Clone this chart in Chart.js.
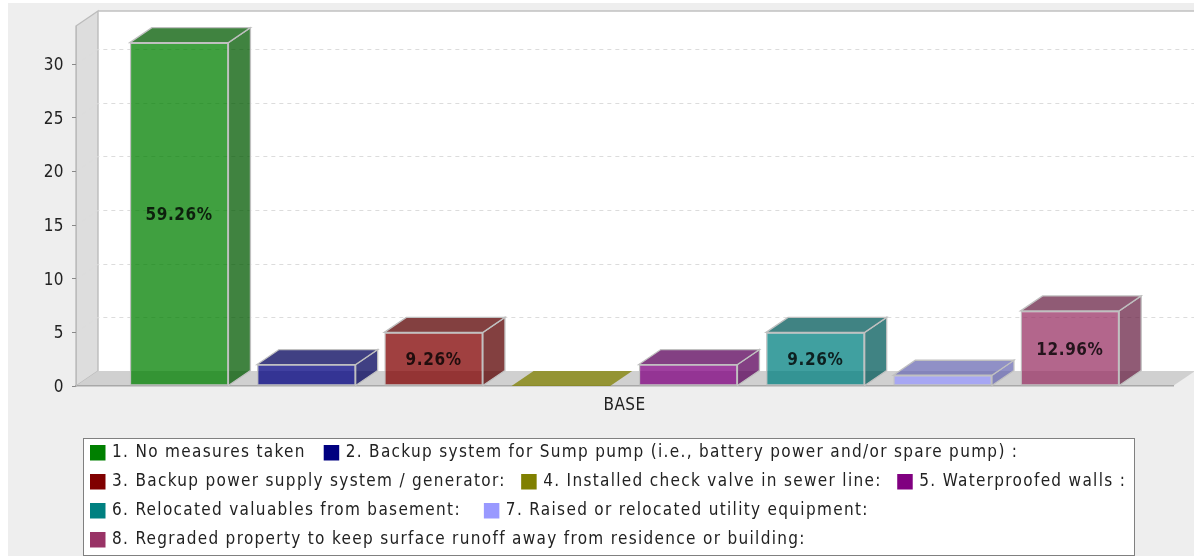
<!DOCTYPE html>
<html><head><meta charset="utf-8">
<style>html,body{margin:0;padding:0;background:#fff;overflow:hidden}
canvas{display:block;filter:blur(0.55px)}</style>
<script src="https://cdn.jsdelivr.net/npm/chart.js@4/dist/chart.umd.min.js"></script>
</head><body><canvas id="c" width="1194" height="556"></canvas>
<script>
const categories = ["BASE"];
const seriesNames = [
 "1. No measures taken",
 "2. Backup system for Sump pump (i.e., battery power and/or spare pump) :",
 "3. Backup power supply system / generator:",
 "4. Installed check valve in sewer line:",
 "5. Waterproofed walls :",
 "6. Relocated valuables from basement:",
 "7. Raised or relocated utility equipment:",
 "8. Regraded property to keep surface runoff away from residence or building:"];
const seriesValues = [32, 2, 5, 0, 2, 5, 1, 7];
const barLabels = ["59.26%", "", "9.26%", "", "", "9.26%", "", "12.96%"];
const seriesRGB = [[0,128,0],[0,0,128],[128,0,0],[128,128,0],[128,0,128],[0,128,128],[153,153,255],[153,51,102]];
const legendRows = [[0,1],[2,3,4],[5,6],[7]];
const legendGaps = [18,15.5,23,17];

const DX = 22, DY = 15, FONT = '"DejaVu Sans Condensed","DejaVu Sans",sans-serif';
const A = 0.75;
const rgba = (c,k=1)=>`rgba(${c.map(v=>Math.round(v*k)).join(',')},${A})`;
function poly(ctx,pts,fill,stroke,lw=1){
  ctx.beginPath();pts.forEach((p,i)=>i?ctx.lineTo(p[0],p[1]):ctx.moveTo(p[0],p[1]));ctx.closePath();
  if(fill){ctx.fillStyle=fill;ctx.fill();}
  if(stroke){ctx.strokeStyle=stroke;ctx.lineWidth=lw;ctx.stroke();}
}
const scene = {
  id:'scene',
  beforeDraw(ch){
    const {ctx,width,height,chartArea:a,scales:{y}}=ch;
    ctx.letterSpacing='0.4px';
    ctx.fillStyle='#fff';ctx.fillRect(0,0,width,height);
    ctx.fillStyle='#eeeeee';ctx.fillRect(8,3,width-8,height-3);
    const L=a.left,R=a.right,T=a.top,B=a.bottom;
    ctx.fillStyle='#fff';ctx.fillRect(L+DX,T-DY,width,B-T);
    poly(ctx,[[L,T],[L+DX,T-DY],[L+DX,B-DY],[L,B]],'#dddddd','#bcbcbc',1.4);
    ctx.strokeStyle='#c0c0c0';ctx.lineWidth=1.5;
    ctx.beginPath();ctx.moveTo(L+DX,T-DY);ctx.lineTo(width,T-DY);ctx.stroke();
    ctx.save();ctx.setLineDash([4,4]);ctx.strokeStyle='#dcdcdc';ctx.lineWidth=1;
    y.ticks.forEach(t=>{ if(t.value===0)return;
      const py=Math.round(y.getPixelForValue(t.value))+.5;
      ctx.beginPath();ctx.moveTo(L,py);ctx.lineTo(L+DX,py-DY);ctx.lineTo(width,py-DY);ctx.stroke();});
    ctx.restore();
    poly(ctx,[[L,B],[L+DX,B-DY],[R+DX,B-DY],[R,B]],'#d0d0d0',null);
  },
  beforeDatasetDraw(ch,args){
    const {ctx}=ch, el=ch.getDatasetMeta(args.index).data[0], c=seriesRGB[args.index];
    const l=el.x-el.width/2,r=el.x+el.width/2,t=el.y,b=el.base;
    const has=seriesValues[args.index]>0, st=has?'#c0c0c0':null;
    poly(ctx,[[r,b],[r+DX,b-DY],[r+DX,t-DY],[r,t]],has?rgba(c,.7):null,st,1.3);
    poly(ctx,[[l,t],[l+DX,t-DY],[r+DX,t-DY],[r,t]],has?rgba(c,.7):rgba(c,1),st,1.3);
  },
  afterDatasetsDraw(ch){
    const {ctx}=ch;
    ctx.save();ctx.letterSpacing='0.6px';
    ctx.font='bold 17px "DejaVu Sans Condensed","DejaVu Sans",sans-serif';
    ctx.textAlign='center';ctx.textBaseline='middle';ctx.fillStyle='rgba(0,0,0,.8)';
    barLabels.forEach((s,i)=>{ if(!s)return;
      const el=ch.getDatasetMeta(i).data[0];
      ctx.fillText(s,el.x,(el.y+el.base)/2+2);});
    ctx.restore();
  },
  afterDraw(ch){
    const {ctx}=ch;
    const box=[83,438,1051,117];
    ctx.save();ctx.fillStyle='#fff';ctx.fillRect(...box);
    ctx.strokeStyle='#808080';ctx.lineWidth=1;ctx.strokeRect(box[0]+.5,box[1]+.5,box[2],box[3]);
    ctx.letterSpacing='1.32px';
    ctx.font='17px '+FONT;ctx.textBaseline='middle';ctx.textAlign='left';
    const rowY=[453,482,510.5,539.5];
    legendRows.forEach((row,ri)=>{
      let x=90;
      row.forEach(i=>{
        ctx.fillStyle=`rgb(${seriesRGB[i].join(',')})`;
        ctx.fillRect(x,Math.round(rowY[ri]-8),15.5,15.5);
        ctx.fillStyle='#222';
        ctx.fillText(seriesNames[i],x+22,rowY[ri]);
        x+=22+ctx.measureText(seriesNames[i]).width+legendGaps[ri];
      });
    });
    ctx.restore();
  }
};
new Chart(document.getElementById('c'),{
  type:'bar',
  data:{labels:categories,datasets:seriesNames.map((n,i)=>({
    label:n,data:[seriesValues[i]],
    backgroundColor:rgba(seriesRGB[i]),
    borderColor:'#c0c0c0',borderWidth:seriesValues[i]>0?1.3:0,borderSkipped:false,
    categoryPercentage:0.928,barPercentage:0.775}))},
  options:{responsive:false,animation:false,
    layout:{padding:{top:26,right:21,left:0,bottom:0}},
    plugins:{legend:{display:false},tooltip:{enabled:false}},
    scales:{
      x:{afterFit:s=>{s.height=170},grid:{display:false},border:{display:true,color:'#a8a8a8',width:1.4},
         ticks:{color:'#222',font:{family:FONT,size:17},padding:1}},
      y:{min:0,max:33.55,afterFit:s=>{s.width=76},
         afterBuildTicks:s=>{s.ticks=[0,5,10,15,20,25,30].map(v=>({value:v}))},
         grid:{drawOnChartArea:false,drawTicks:true,tickLength:4,color:'#888'},
         border:{color:'#bcbcbc'},
         ticks:{color:'#222',font:{family:FONT,size:17},padding:8,labelOffset:1.5}}
    }},
  plugins:[scene]
});
</script></body></html>
